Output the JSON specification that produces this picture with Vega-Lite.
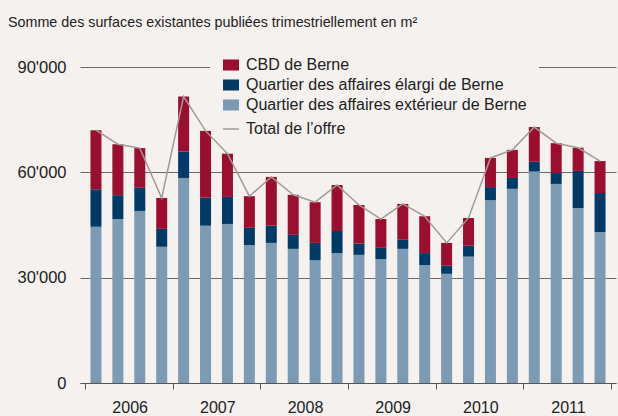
{
  "$schema": "https://vega.github.io/schema/vega-lite/v6.json",
  "width": 536,
  "height": 316,
  "autosize": {"type": "none"},
  "padding": {"left": 80, "top": 67, "right": 2, "bottom": 33},
  "background": "#f4f1ee",
  "config": {
    "view": {"stroke": null},
    "font": "Liberation Sans"
  },
  "title": {
    "text": "Somme des surfaces existantes publiées trimestriellement en m²",
    "anchor": "start",
    "frame": "group",
    "dx": -72,
    "offset": 14,
    "fontSize": 14.3,
    "fontWeight": "normal",
    "color": "#222222",
    "font": "Liberation Sans"
  },
  "data": {
    "values": [
      {"t": 2006.125, "series": "Quartier des affaires extérieur de Berne", "rank": 1, "v": 44500},
      {"t": 2006.125, "series": "Quartier des affaires élargi de Berne", "rank": 2, "v": 10700},
      {"t": 2006.125, "series": "CBD de Berne", "rank": 3, "v": 16800},
      {"t": 2006.375, "series": "Quartier des affaires extérieur de Berne", "rank": 1, "v": 46700},
      {"t": 2006.375, "series": "Quartier des affaires élargi de Berne", "rank": 2, "v": 6800},
      {"t": 2006.375, "series": "CBD de Berne", "rank": 3, "v": 14500},
      {"t": 2006.625, "series": "Quartier des affaires extérieur de Berne", "rank": 1, "v": 49000},
      {"t": 2006.625, "series": "Quartier des affaires élargi de Berne", "rank": 2, "v": 6600},
      {"t": 2006.625, "series": "CBD de Berne", "rank": 3, "v": 11300},
      {"t": 2006.875, "series": "Quartier des affaires extérieur de Berne", "rank": 1, "v": 38800},
      {"t": 2006.875, "series": "Quartier des affaires élargi de Berne", "rank": 2, "v": 5100},
      {"t": 2006.875, "series": "CBD de Berne", "rank": 3, "v": 8800},
      {"t": 2007.125, "series": "Quartier des affaires extérieur de Berne", "rank": 1, "v": 58400},
      {"t": 2007.125, "series": "Quartier des affaires élargi de Berne", "rank": 2, "v": 7500},
      {"t": 2007.125, "series": "CBD de Berne", "rank": 3, "v": 15700},
      {"t": 2007.375, "series": "Quartier des affaires extérieur de Berne", "rank": 1, "v": 44800},
      {"t": 2007.375, "series": "Quartier des affaires élargi de Berne", "rank": 2, "v": 8000},
      {"t": 2007.375, "series": "CBD de Berne", "rank": 3, "v": 19000},
      {"t": 2007.625, "series": "Quartier des affaires extérieur de Berne", "rank": 1, "v": 45300},
      {"t": 2007.625, "series": "Quartier des affaires élargi de Berne", "rank": 2, "v": 7700},
      {"t": 2007.625, "series": "CBD de Berne", "rank": 3, "v": 12300},
      {"t": 2007.875, "series": "Quartier des affaires extérieur de Berne", "rank": 1, "v": 39300},
      {"t": 2007.875, "series": "Quartier des affaires élargi de Berne", "rank": 2, "v": 4900},
      {"t": 2007.875, "series": "CBD de Berne", "rank": 3, "v": 9000},
      {"t": 2008.125, "series": "Quartier des affaires extérieur de Berne", "rank": 1, "v": 39900},
      {"t": 2008.125, "series": "Quartier des affaires élargi de Berne", "rank": 2, "v": 4900},
      {"t": 2008.125, "series": "CBD de Berne", "rank": 3, "v": 13900},
      {"t": 2008.375, "series": "Quartier des affaires extérieur de Berne", "rank": 1, "v": 38200},
      {"t": 2008.375, "series": "Quartier des affaires élargi de Berne", "rank": 2, "v": 4000},
      {"t": 2008.375, "series": "CBD de Berne", "rank": 3, "v": 11400},
      {"t": 2008.625, "series": "Quartier des affaires extérieur de Berne", "rank": 1, "v": 35000},
      {"t": 2008.625, "series": "Quartier des affaires élargi de Berne", "rank": 2, "v": 4900},
      {"t": 2008.625, "series": "CBD de Berne", "rank": 3, "v": 11600},
      {"t": 2008.875, "series": "Quartier des affaires extérieur de Berne", "rank": 1, "v": 37000},
      {"t": 2008.875, "series": "Quartier des affaires élargi de Berne", "rank": 2, "v": 6300},
      {"t": 2008.875, "series": "CBD de Berne", "rank": 3, "v": 13100},
      {"t": 2009.125, "series": "Quartier des affaires extérieur de Berne", "rank": 1, "v": 36500},
      {"t": 2009.125, "series": "Quartier des affaires élargi de Berne", "rank": 2, "v": 3200},
      {"t": 2009.125, "series": "CBD de Berne", "rank": 3, "v": 11000},
      {"t": 2009.375, "series": "Quartier des affaires extérieur de Berne", "rank": 1, "v": 35300},
      {"t": 2009.375, "series": "Quartier des affaires élargi de Berne", "rank": 2, "v": 3200},
      {"t": 2009.375, "series": "CBD de Berne", "rank": 3, "v": 8200},
      {"t": 2009.625, "series": "Quartier des affaires extérieur de Berne", "rank": 1, "v": 38200},
      {"t": 2009.625, "series": "Quartier des affaires élargi de Berne", "rank": 2, "v": 2600},
      {"t": 2009.625, "series": "CBD de Berne", "rank": 3, "v": 10200},
      {"t": 2009.875, "series": "Quartier des affaires extérieur de Berne", "rank": 1, "v": 33600},
      {"t": 2009.875, "series": "Quartier des affaires élargi de Berne", "rank": 2, "v": 3400},
      {"t": 2009.875, "series": "CBD de Berne", "rank": 3, "v": 10500},
      {"t": 2010.125, "series": "Quartier des affaires extérieur de Berne", "rank": 1, "v": 31100},
      {"t": 2010.125, "series": "Quartier des affaires élargi de Berne", "rank": 2, "v": 2300},
      {"t": 2010.125, "series": "CBD de Berne", "rank": 3, "v": 6500},
      {"t": 2010.375, "series": "Quartier des affaires extérieur de Berne", "rank": 1, "v": 36000},
      {"t": 2010.375, "series": "Quartier des affaires élargi de Berne", "rank": 2, "v": 3100},
      {"t": 2010.375, "series": "CBD de Berne", "rank": 3, "v": 7900},
      {"t": 2010.625, "series": "Quartier des affaires extérieur de Berne", "rank": 1, "v": 52100},
      {"t": 2010.625, "series": "Quartier des affaires élargi de Berne", "rank": 2, "v": 3700},
      {"t": 2010.625, "series": "CBD de Berne", "rank": 3, "v": 8300},
      {"t": 2010.875, "series": "Quartier des affaires extérieur de Berne", "rank": 1, "v": 55300},
      {"t": 2010.875, "series": "Quartier des affaires élargi de Berne", "rank": 2, "v": 3100},
      {"t": 2010.875, "series": "CBD de Berne", "rank": 3, "v": 8000},
      {"t": 2011.125, "series": "Quartier des affaires extérieur de Berne", "rank": 1, "v": 60200},
      {"t": 2011.125, "series": "Quartier des affaires élargi de Berne", "rank": 2, "v": 2800},
      {"t": 2011.125, "series": "CBD de Berne", "rank": 3, "v": 9900},
      {"t": 2011.375, "series": "Quartier des affaires extérieur de Berne", "rank": 1, "v": 56700},
      {"t": 2011.375, "series": "Quartier des affaires élargi de Berne", "rank": 2, "v": 3100},
      {"t": 2011.375, "series": "CBD de Berne", "rank": 3, "v": 8500},
      {"t": 2011.625, "series": "Quartier des affaires extérieur de Berne", "rank": 1, "v": 49800},
      {"t": 2011.625, "series": "Quartier des affaires élargi de Berne", "rank": 2, "v": 10600},
      {"t": 2011.625, "series": "CBD de Berne", "rank": 3, "v": 6600},
      {"t": 2011.875, "series": "Quartier des affaires extérieur de Berne", "rank": 1, "v": 43000},
      {"t": 2011.875, "series": "Quartier des affaires élargi de Berne", "rank": 2, "v": 11100},
      {"t": 2011.875, "series": "CBD de Berne", "rank": 3, "v": 9100}
    ]
  },
  "encoding": {
    "x": {
      "field": "t",
      "type": "quantitative",
      "scale": {"domain": [2006, 2012], "nice": false, "zero": false},
      "axis": {
        "title": null,
        "values": [2006, 2007, 2008, 2009, 2010, 2011, 2012],
        "labelExpr": "datum.value < 2012 ? format(datum.value, 'd') : ''",
        "labelOffset": 44.67,
        "labelFlush": false,
        "labelOverlap": false,
        "grid": false,
        "tickSize": 6,
        "tickColor": "#555555",
        "domainColor": "#555555",
        "labelFontSize": 16,
        "labelColor": "#222222",
        "labelPadding": 10
      }
    }
  },
  "layer": [
    {
      "mark": {"type": "bar", "size": 11},
      "encoding": {
        "y": {
          "field": "v",
          "type": "quantitative",
          "aggregate": "sum",
          "stack": "zero",
          "scale": {"domain": [0, 90000], "nice": false},
          "axis": {
            "title": null,
            "values": [0, 30000, 60000, 90000],
            "labelExpr": "datum.value == 0 ? '0' : format(datum.value / 1000, 'd') + \"'000\"",
            "ticks": false,
            "domain": false,
            "grid": true,
            "gridColor": "#6a6a6a",
            "gridWidth": 1.1,
            "labelPadding": 14,
            "labelFontSize": 16.5,
            "labelColor": "#222222"
          }
        },
        "color": {
          "field": "series",
          "type": "nominal",
          "scale": {
            "domain": ["CBD de Berne", "Quartier des affaires élargi de Berne", "Quartier des affaires extérieur de Berne"],
            "range": ["#9b0e2f", "#003a68", "#7b9ab6"]
          },
          "legend": {
            "title": null,
            "orient": "none",
            "legendX": 130,
            "legendY": -23,
            "padding": 12,
            "fillColor": "#f4f1ee",
            "symbolType": "M-1,-0.69H1V0.69H-1Z",
            "symbolSize": 256,
            "symbolOpacity": 1,
            "labelFontSize": 16,
            "labelColor": "#222222",
            "labelOffset": 6,
            "labelLimit": 400,
            "rowPadding": 3
          }
        },
        "order": {"field": "rank", "type": "quantitative"}
      }
    },
    {
      "mark": {"type": "line", "strokeWidth": 1.5},
      "encoding": {
        "y": {"field": "v", "type": "quantitative", "aggregate": "sum"},
        "stroke": {
          "datum": "Total de l’offre",
          "scale": {"domain": ["Total de l’offre"], "range": ["#a39a93"]},
          "legend": {
            "title": null,
            "orient": "none",
            "legendX": 142,
            "legendY": 53,
            "padding": 0,
            "fillColor": "#f4f1ee",
            "symbolType": "stroke",
            "symbolSize": 256,
            "symbolStrokeWidth": 1.5,
            "labelFontSize": 16,
            "labelColor": "#222222",
            "labelOffset": 6,
            "labelLimit": 400
          }
        }
      }
    }
  ]
}
